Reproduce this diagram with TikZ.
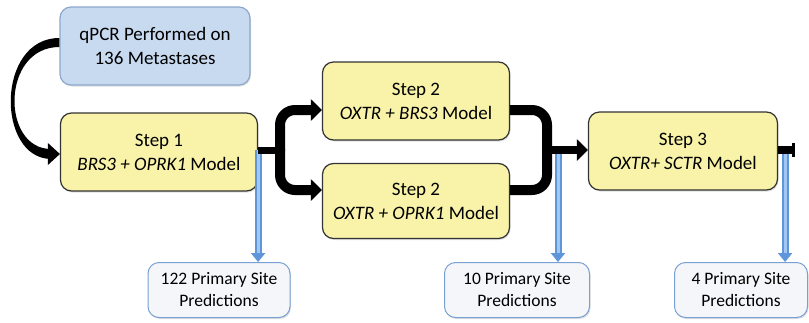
\documentclass[tikz,border=0pt]{standalone}
\usepackage{fontspec}
\setmainfont{Carlito}
\usetikzlibrary{positioning, arrows.meta, calc, shadows}
\definecolor{stepfill}{RGB}{248,243,168}
\definecolor{startfill}{RGB}{200,218,240}
\definecolor{startline}{RGB}{140,168,205}
\definecolor{predfill}{RGB}{244,246,249}
\definecolor{predline}{RGB}{120,160,210}
\definecolor{predarrow}{RGB}{95,150,218}
\definecolor{predlight}{RGB}{160,200,242}
\tikzset{
  pipeline/.style={
	x=1pt, y=-1pt, % work in image pixels, y downwards
	font=\fontsize{19}{24}\selectfont,
	box/.style={rounded corners=11pt, align=center, inner sep=0pt,
		drop shadow={opacity=0.25, shadow xshift=1pt, shadow yshift=-1.5pt}}, % common box look
	startbox/.style={box, draw=startline, line width=1.2pt, fill=startfill,
		minimum width=190pt, minimum height=78pt},
	stepbox/.style={box, draw=black!80, line width=1.2pt, fill=stepfill,
		minimum width=190pt, minimum height=78pt},
	predbox/.style={box, draw=predline, line width=1pt, fill=predfill,
		minimum height=55pt, font=\fontsize{17.5}{22}\selectfont},
	flow/.style={line width=10pt, rounded corners=15pt}, % thick black branches
	head/.style={-{Triangle[length=11pt, width=21pt]}},
	predict/.style={predarrow, line width=7pt,
		-{Triangle[length=9pt, width=14pt]},
		postaction={draw=predlight, line width=3pt, -, shorten >=9pt}}, % blue drops to the results
  }
}
\begin{document}
\begin{tikzpicture}[pipeline]
	  \useasboundingbox (0,0) rectangle (809,322);
	  \node[startbox] (qpcr) at (155,46) {qPCR Performed on\\136 Metastases};
	  \node[stepbox, minimum width=197pt] (s1) at (159,152) {Step 1\\\textit{BRS3 + OPRK1} Model};
	  \node[stepbox, minimum width=187pt] (s2a) at (416,101) {Step 2\\\textit{OXTR + BRS3} Model};
	  \node[stepbox, minimum width=187pt, minimum height=75pt] (s2b) at (416,201) {Step 2\\\textit{OXTR + OPRK1} Model};
	  \node[stepbox, minimum width=189pt] (s3) at (683,151) {Step 3\\\textit{OXTR+ SCTR} Model};
	  \node[predbox, minimum width=142pt] (p1) at (219,290) {122 Primary Site\\Predictions};
	  \node[predbox, minimum width=145pt] (p2) at (517,290) {10 Primary Site\\Predictions};
	  \node[predbox, minimum width=133pt] (p3) at (741,290) {4 Primary Site\\Predictions};
	  \coordinate (split) at (280,150);
	  \coordinate (merge) at (547,150);
	  \coordinate (stop) at (795,150);
	  \coordinate (d1) at ($(s1.east)+(0,-2)$);
	  \coordinate (d2) at ($(merge)+(11,0)$);
	  \coordinate (d3) at ($(s3.east)+(7,0)$);
	  % blue drops first, black flow on top
	  \draw[predict] (d1) -- (d1 |- p1.north);
	  \draw[predict] (d2) -- (d2 |- p2.north);
	  \draw[predict] (d3) -- (d3 |- p3.north);
	  % tapered curve from the qPCR box into step 1
	  \fill ($(qpcr.west)+(0,-8)$) .. controls (-4,38) and (-4,158) .. ($(s1.west)+(-9,7)$)
		  -- ($(s1.west)+(-9,-3)$) .. controls (1,149) and (1,47) .. ($(qpcr.west)+(0,1)$) -- cycle;
	  \fill ($(s1.west)+(-12,-9)$) -- ($(s1.west)+(0,2)$) -- ($(s1.west)+(-12,13)$) -- cycle;
	  \draw[line width=7pt] (s1.east |- split) -- (split);
	  \draw[flow, head] ($(split)+(0,1)$) |- ($(s2a.west)+(0,9)$);
	  \draw[flow, head] ($(split)+(0,-1)$) |- ($(s2b.west)+(0,-11)$);
	  \draw[flow] ($(s2a.east)+(0,9)$) -| ($(merge)+(0,1)$);
	  \draw[flow] ($(s2b.east)+(0,-11)$) -| ($(merge)+(0,-1)$);
	  \draw[line width=8pt, head] ($(merge)+(-4,0)$) -- (s3.west |- merge);
	  \draw[line width=8pt, -{Bar[width=14pt, line width=3pt]}] (s3.east |- stop) -- (stop);
	  \end{tikzpicture}
\end{document}
